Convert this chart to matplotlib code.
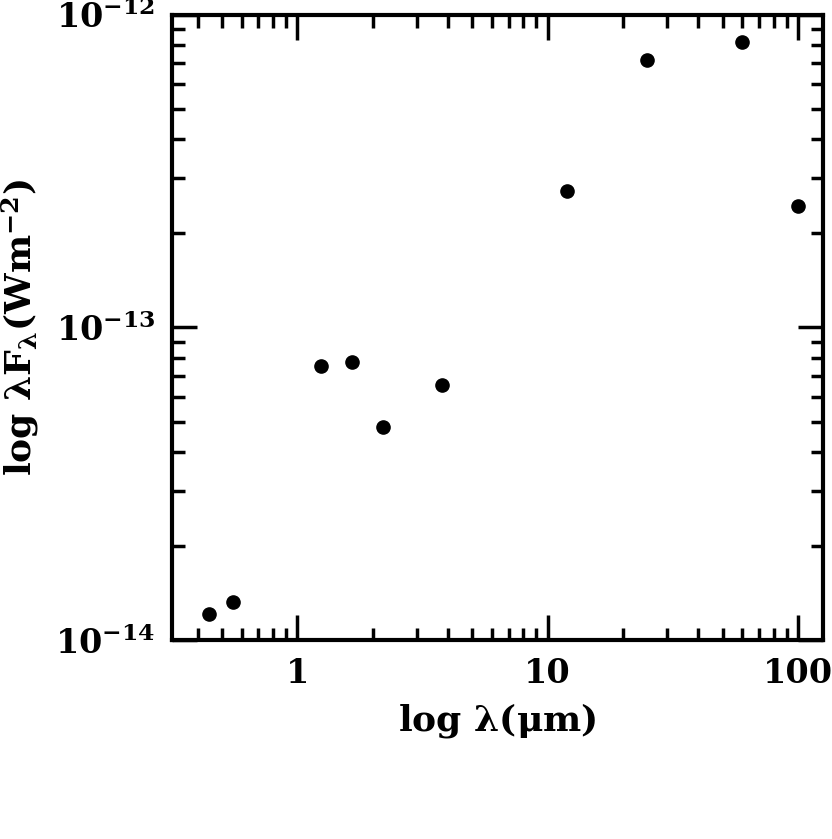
import numpy as np
import matplotlib
matplotlib.use("Agg")
import matplotlib.pyplot as plt
from matplotlib.ticker import LogLocator, FixedLocator, FixedFormatter, NullFormatter

plt.rcParams['font.family'] = ['DejaVu Serif']
plt.rcParams['font.weight'] = 'bold'
plt.rcParams['mathtext.fontset'] = 'dejavuserif'
plt.rcParams['mathtext.default'] = 'bf'

# wavelength (micron) and lambda*F_lambda (W m^-2)
wavelength = [0.443, 0.552, 1.25, 1.65, 2.2, 3.8, 12.0, 25.0, 60.0, 100.0]
flux = [1.21e-14, 1.32e-14, 7.55e-14, 7.74e-14, 4.82e-14, 6.55e-14,
        2.74e-13, 7.18e-13, 8.21e-13, 2.45e-13]

xticks = [1, 10, 100]
xticklabels = ['1', '10', '100']
yticks = [1e-14, 1e-13, 1e-12]
yticklabels = [r'$10^{-14}$', r'$10^{-13}$', r'$10^{-12}$']

fig = plt.figure(figsize=(8.32, 8.39), dpi=100)
ax = fig.add_axes([0.2067, 0.2372, 0.7825, 0.745])

ax.plot(wavelength, flux, 'o', color='black', ms=9.5, mec='black')

ax.set_xscale('log')
ax.set_yscale('log')
ax.set_xlim(10**-0.5, 10**2.1)
ax.set_ylim(1e-14, 1e-12)

ax.xaxis.set_major_locator(FixedLocator(xticks))
ax.xaxis.set_major_formatter(FixedFormatter(xticklabels))
ax.xaxis.set_minor_locator(LogLocator(base=10, subs=np.arange(2, 10), numticks=20))
ax.xaxis.set_minor_formatter(NullFormatter())
ax.yaxis.set_major_locator(FixedLocator(yticks))
ax.yaxis.set_major_formatter(FixedFormatter(yticklabels))
ax.yaxis.set_minor_locator(LogLocator(base=10, subs=np.arange(2, 10), numticks=20))
ax.yaxis.set_minor_formatter(NullFormatter())

for s in ax.spines.values():
    s.set_linewidth(3)
ax.tick_params(which='both', direction='in', top=True, right=True, width=2.5)
ax.tick_params(which='major', length=18, labelsize=24, pad=12)
ax.tick_params(which='minor', length=9)

ax.set_xlabel(r'log $\lambda$($\mu$m)', fontsize=26, fontweight='bold', labelpad=8)
ax.set_ylabel(r'log $\lambda$F$_\lambda$(Wm$^{-2}$)', fontsize=26, fontweight='bold', labelpad=10)

fig.savefig('out.png', dpi=100)
